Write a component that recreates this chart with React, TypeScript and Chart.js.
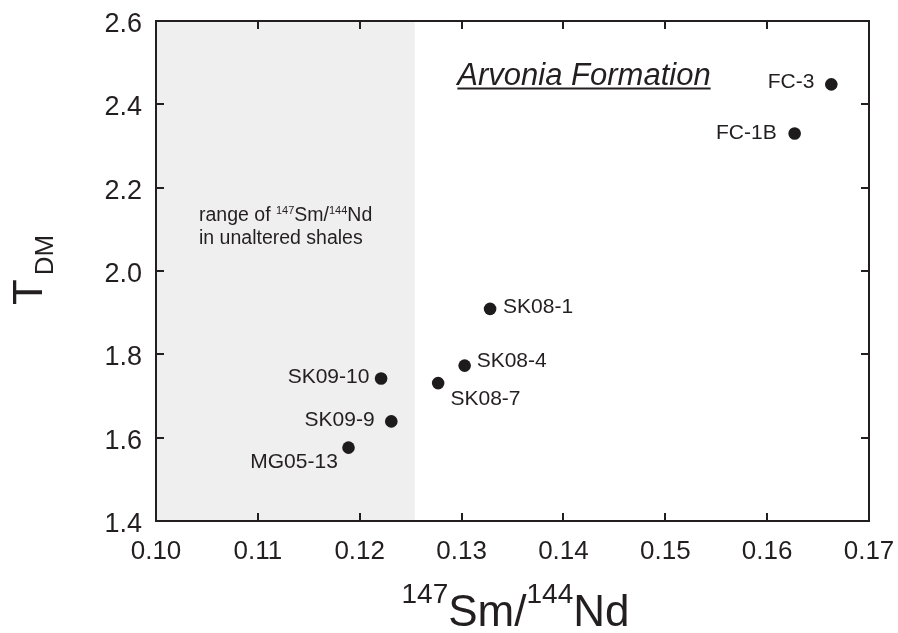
import React, { useEffect, useRef } from "react";
import { Chart, registerables } from "chart.js";

Chart.register(...registerables);

// ---- data ----
const samples = ["FC-3", "FC-1B", "SK08-1", "SK08-4", "SK08-7", "SK09-10", "SK09-9", "MG05-13"];
const smNd = [0.1663, 0.1627, 0.1328, 0.1303, 0.1277, 0.1221, 0.1231, 0.1189];
const tdm = [2.448, 2.33, 1.909, 1.773, 1.731, 1.742, 1.639, 1.576];
const shaleRange = [0.1, 0.1254];
const xTicks = [0.1, 0.11, 0.12, 0.13, 0.14, 0.15, 0.16, 0.17];
const xTickLabels = ["0.10", "0.11", "0.12", "0.13", "0.14", "0.15", "0.16", "0.17"];
const yTicks = [1.4, 1.6, 1.8, 2.0, 2.2, 2.4, 2.6];
const yTickLabels = ["1.4", "1.6", "1.8", "2.0", "2.2", "2.4", "2.6"];
const titleText = "Arvonia Formation";

// ---- label placement (style, not data) ----
const labelPlacement = [
  { dx: -17, dy: -3.5, align: "right" },
  { dx: -18, dy: -1.6, align: "right" },
  { dx: 13, dy: -3, align: "left" },
  { dx: 12, dy: -6, align: "left" },
  { dx: 12.3, dy: 14.7, align: "left" },
  { dx: -11.7, dy: -3, align: "right" },
  { dx: -16.7, dy: -2.8, align: "right" },
  { dx: -10.7, dy: 13, align: "right" },
];

const FONT = '"Liberation Sans", Arial, Helvetica, sans-serif';
const INK = "#231f20";

function drawRich(ctx: CanvasRenderingContext2D, parts: { t: string; size: number; rise: number }[], x: number, y: number, align: "left" | "center") {
  let total = 0;
  const widths = parts.map((p) => {
    ctx.font = `${p.size}px ${FONT}`;
    const w = ctx.measureText(p.t).width;
    total += w;
    return w;
  });
  let cx = align === "center" ? x - total / 2 : x;
  ctx.textAlign = "left";
  ctx.textBaseline = "alphabetic";
  parts.forEach((p, i) => {
    ctx.font = `${p.size}px ${FONT}`;
    ctx.fillText(p.t, cx, y - p.rise);
    cx += widths[i];
  });
}

const customPlugin = {
  id: "custom",
  beforeDatasetsDraw(chart: any) {
    const { ctx, chartArea: a, scales } = chart;
    const xs = scales.x;
    ctx.save();
    ctx.fillStyle = "#efefef";
    const x0 = xs.getPixelForValue(shaleRange[0]);
    const x1 = xs.getPixelForValue(shaleRange[1]);
    ctx.fillRect(x0, a.top, x1 - x0, a.bottom - a.top);
    ctx.restore();
  },
  afterDatasetsDraw(chart: any) {
    const { ctx, chartArea: a, scales } = chart;
    const xs = scales.x;
    const ys = scales.y;
    ctx.save();
    ctx.strokeStyle = INK;
    ctx.fillStyle = INK;
    ctx.lineWidth = 2;
    // frame
    ctx.strokeRect(a.left, a.top, a.right - a.left, a.bottom - a.top);
    // inward ticks
    const tl = 8;
    ctx.beginPath();
    xTicks.forEach((v, i) => {
      if (i === 0 || i === xTicks.length - 1) return;
      const px = Math.round(xs.getPixelForValue(v));
      ctx.moveTo(px, a.bottom);
      ctx.lineTo(px, a.bottom - tl);
      ctx.moveTo(px, a.top);
      ctx.lineTo(px, a.top + tl);
    });
    yTicks.forEach((v, i) => {
      if (i === 0 || i === yTicks.length - 1) return;
      const py = Math.round(ys.getPixelForValue(v));
      ctx.moveTo(a.left, py);
      ctx.lineTo(a.left + tl, py);
      ctx.moveTo(a.right, py);
      ctx.lineTo(a.right - tl, py);
    });
    ctx.stroke();

    // tick labels
    ctx.font = `26px ${FONT}`;
    ctx.textAlign = "center";
    ctx.textBaseline = "alphabetic";
    xTicks.forEach((v, i) => {
      ctx.fillText(xTickLabels[i], xs.getPixelForValue(v), a.bottom + 38);
    });
    ctx.font = `27px ${FONT}`;
    ctx.textAlign = "right";
    yTicks.forEach((v, i) => {
      ctx.fillText(yTickLabels[i], a.left - 14, ys.getPixelForValue(v) + 11);
    });

    // point labels
    ctx.font = `21px ${FONT}`;
    const meta = chart.getDatasetMeta(0);
    meta.data.forEach((pt: any, i: number) => {
      const p = labelPlacement[i];
      ctx.textAlign = p.align as CanvasTextAlign;
      ctx.fillText(samples[i], pt.x + p.dx, pt.y + p.dy + 7.5);
    });

    // title
    ctx.font = `italic 31px ${FONT}`;
    ctx.textAlign = "center";
    const tcx = 584;
    const tby = 85;
    ctx.fillText(titleText, tcx, tby);
    const tw = ctx.measureText(titleText).width;
    ctx.fillRect(tcx - tw / 2, tby + 2.5, tw, 2);

    // shale annotation
    const ax = xs.getPixelForValue(shaleRange[0]) + 43;
    drawRich(
      ctx,
      [
        { t: "range of ", size: 19.5, rise: 0 },
        { t: "147", size: 11, rise: 7 },
        { t: "Sm/", size: 19.5, rise: 0 },
        { t: "144", size: 11, rise: 7 },
        { t: "Nd", size: 19.5, rise: 0 },
      ],
      ax,
      221,
      "left"
    );
    drawRich(ctx, [{ t: "in unaltered shales", size: 19.5, rise: 0 }], ax, 243.5, "left");

    // x axis title
    drawRich(
      ctx,
      [
        { t: "147", size: 28, rise: 23 },
        { t: "Sm/", size: 44, rise: 0 },
        { t: "144", size: 28, rise: 23 },
        { t: "Nd", size: 44, rise: 0 },
      ],
      (a.left + a.right) / 2 + 3,
      626,
      "center"
    );

    // y axis title (rotated)
    ctx.translate(42, 305);
    ctx.rotate(-Math.PI / 2);
    ctx.textAlign = "left";
    ctx.font = `42px ${FONT}`;
    ctx.fillText("T", 0, 0);
    const Tw = ctx.measureText("T").width;
    ctx.font = `26px ${FONT}`;
    ctx.fillText("DM", Tw + 4, 11);
    ctx.restore();
  },
};

export default function App() {
  const ref = useRef<HTMLCanvasElement | null>(null);
  useEffect(() => {
    if (!ref.current) return;
    const chart = new Chart(ref.current, {
      type: "scatter",
      data: {
        datasets: [
          {
            data: samples.map((_, i) => ({ x: smNd[i], y: tdm[i] })),
            pointRadius: 6.3,
            pointHoverRadius: 6.3,
            backgroundColor: "#1d1b1b",
            borderWidth: 0,
          },
        ],
      },
      options: {
        responsive: false,
        animation: false,
        events: [],
        layout: { padding: { left: 156, right: 29, top: 21, bottom: 112 } },
        scales: {
          x: { type: "linear", min: 0.1, max: 0.17, display: false },
          y: { type: "linear", min: 1.4, max: 2.6, display: false },
        },
        plugins: { legend: { display: false }, tooltip: { enabled: false } },
      },
      plugins: [customPlugin],
    });
    return () => chart.destroy();
  }, []);
  return (
    <div style={{ position: "fixed", left: 0, top: 0, width: 898, height: 633, background: "#fff" }}>
      <canvas ref={ref} width={898} height={633} />
    </div>
  );
}
